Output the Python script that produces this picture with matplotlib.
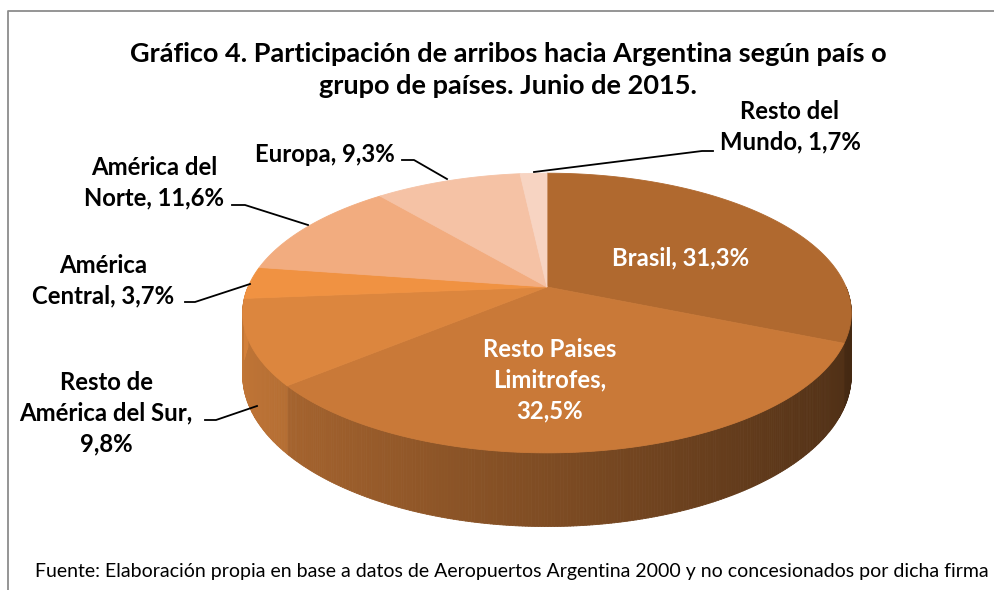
import numpy as np
import matplotlib
matplotlib.use("Agg")
import matplotlib.pyplot as plt
from matplotlib.collections import PolyCollection
from matplotlib.patches import Polygon

# ---- data ----
categories = ["Brasil", "Resto Paises Limitrofes", "Resto de América del Sur",
              "América Central", "América del Norte", "Europa", "Resto del Mundo"]
shares = [31.3, 32.5, 9.8, 3.7, 11.6, 9.3, 1.7]
label_texts = ["Brasil, 31,3%", "Resto Paises\nLimitrofes,\n32,5%",
               "Resto de\nAmérica del Sur,\n9,8%", "América\nCentral, 3,7%",
               "América del\nNorte, 11,6%", "Europa, 9,3%", "Resto del\nMundo, 1,7%"]
colors = ["#B0692F", "#C97938", "#DC863E", "#F09242", "#F2AC7F", "#F5C2A5", "#F7D4C2"]

title = "Gráfico 4. Participación de arribos hacia Argentina según país o\ngrupo de países. Junio de 2015."
source = "Fuente: Elaboración propia en base a datos de Aeropuertos Argentina 2000 y no concesionados por dicha firma"

# ---- geometry (pixel space) ----
W, H = 995, 590
cx, cy, a, b, k, d = 547, 287, 299, 135, 0.186, 60
FONT = ["Lato", "DejaVu Sans"]

def proj(theta_deg, depth=0.0):
    t = np.radians(theta_deg)
    c, s = np.sin(t), -np.cos(t)
    w = 1 - k * s
    return cx + a * c / w, cy + b * s / w + depth / w

fig = plt.figure(figsize=(W / 100, H / 100), dpi=100)
ax = fig.add_axes([0, 0, 1, 1])
ax.set_xlim(0, W)
ax.set_ylim(H, 0)
ax.axis("off")

# chart border
ax.plot([8, 8, W + 5], [H + 5, 11, 11], color="#8C8C8C", lw=1.3, solid_capstyle="butt")

total = sum(shares)
bounds = np.concatenate([[0], np.cumsum(shares) / total * 360])

def rgb(hexc):
    return np.array(matplotlib.colors.to_rgb(hexc))

# side walls (front half)
polys, fcs = [], []
for i in range(len(shares)):
    t0, t1 = max(bounds[i], 90), min(bounds[i + 1], 270)
    if t1 <= t0:
        continue
    ts = np.linspace(t0, t1, max(2, int((t1 - t0) / 0.5) + 1))
    base = rgb(colors[i])
    for u, v in zip(ts[:-1], ts[1:]):
        x0, y0 = proj(u); x1, y1 = proj(v)
        x0b, y0b = proj(u, d); x1b, y1b = proj(v, d)
        polys.append([(x0, y0), (x1, y1), (x1b, y1b), (x0b, y0b)])
        cm = np.sin(np.radians((u + v) / 2))
        f = 0.63 - 0.25 * cm
        fcs.append(np.clip(base * f, 0, 1))
ax.add_collection(PolyCollection(polys, facecolors=fcs, edgecolors=fcs, linewidths=0.6))

# top face
for i in range(len(shares)):
    ts = np.linspace(bounds[i], bounds[i + 1], 200)
    pts = [(cx, cy)] + [proj(t) for t in ts]
    ax.add_patch(Polygon(pts, closed=True, facecolor=colors[i], edgecolor=colors[i], lw=0.6))

# title
ax.text(508, 70, title, ha="center", va="center", fontsize=19.5, fontweight="bold",
        family=FONT, linespacing=1.4)

lab_kw = dict(fontsize=17.2, fontweight="bold", family=FONT, ha="center", va="center", linespacing=1.4)
# inside labels
ax.text(681, 258, label_texts[0], color="white", **lab_kw)
ax.text(550, 380, label_texts[1], color="white", **lab_kw)
# outside labels
ax.text(106, 413, label_texts[2], color="black", **lab_kw)
ax.text(103, 281, label_texts[3], color="black", **lab_kw)
ax.text(154, 183, label_texts[4], color="black", **lab_kw)
ax.text(325, 155, label_texts[5], color="black", **lab_kw)
ax.text(790, 127, label_texts[6], color="black", **lab_kw)

# leader lines
leaders = [
    [(205, 420), (216, 420), (257, 406)],
    [(185, 302), (195, 302), (250, 284)],
    [(232, 205), (245, 205), (308, 225)],
    [(402, 160), (414, 160), (447, 179)],
    [(534, 172), (702, 151), (713, 151)],
]
for ln in leaders:
    xs, ys = zip(*ln)
    ax.plot(xs, ys, color="black", lw=1.3)

# source
ax.text(35, 572, source, ha="left", va="center", fontsize=14, family=FONT)

fig.savefig("out.png", dpi=100)
